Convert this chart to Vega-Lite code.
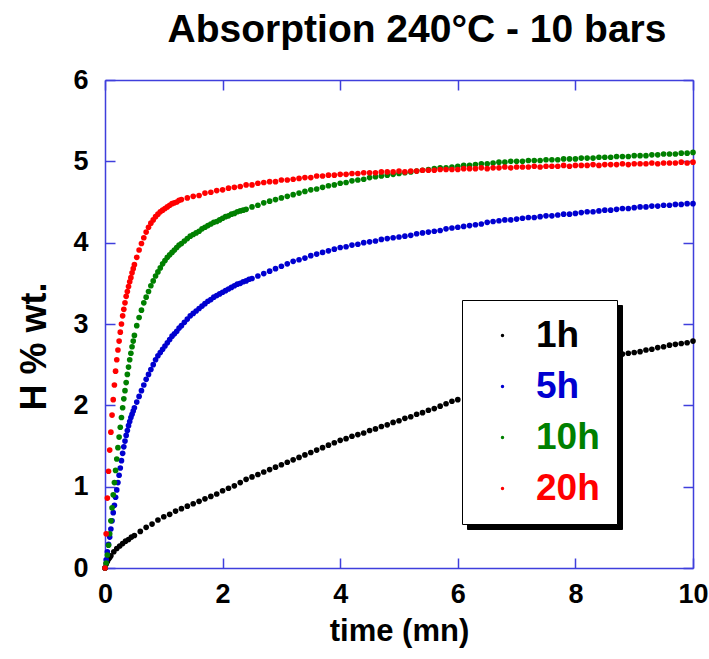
{
  "$schema": "https://vega.github.io/schema/vega-lite/v6.json",
  "width": 588,
  "height": 488,
  "autosize": "none",
  "padding": {"left": 105, "top": 80, "right": 16, "bottom": 91},
  "background": "white",
  "title": {
    "text": "Absorption 240°C - 10 bars",
    "font": "Liberation Sans",
    "fontSize": 39,
    "fontWeight": "bold",
    "color": "black",
    "anchor": "middle",
    "frame": "group",
    "dx": 18,
    "offset": 16
  },
  "config": {
    "font": "Liberation Sans",
    "view": {"stroke": null},
    "axis": {
      "grid": false,
      "domainColor": "#3f3fdc",
      "tickColor": "#3f3fdc",
      "domainWidth": 1.5,
      "tickWidth": 1.5,
      "tickSize": -10,
      "labelFont": "Liberation Sans",
      "labelFontWeight": "bold",
      "labelFontSize": 27,
      "labelColor": "black",
      "titleFont": "Liberation Sans",
      "titleFontWeight": "bold",
      "titleColor": "black"
    }
  },
  "data": {
    "values": [
      {"s":"1h","t":0,"h":0},{"s":"1h","t":0.02,"h":0.05},{"s":"1h","t":0.04,"h":0.08},{"s":"1h","t":0.06,"h":0.11},{"s":"1h","t":0.08,"h":0.13},{"s":"1h","t":0.1,"h":0.15},{"s":"1h","t":0.15,"h":0.2},{"s":"1h","t":0.2,"h":0.24},{"s":"1h","t":0.25,"h":0.27},{"s":"1h","t":0.3,"h":0.3},{"s":"1h","t":0.35,"h":0.33},{"s":"1h","t":0.4,"h":0.35},{"s":"1h","t":0.45,"h":0.38},{"s":"1h","t":0.5,"h":0.4},{"s":"1h","t":0.6,"h":0.45},{"s":"1h","t":0.7,"h":0.5},{"s":"1h","t":0.8,"h":0.54},{"s":"1h","t":0.9,"h":0.59},{"s":"1h","t":1.0,"h":0.63},{"s":"1h","t":1.1,"h":0.66},{"s":"1h","t":1.2,"h":0.7},{"s":"1h","t":1.3,"h":0.73},{"s":"1h","t":1.4,"h":0.76},{"s":"1h","t":1.5,"h":0.79},{"s":"1h","t":1.6,"h":0.82},{"s":"1h","t":1.7,"h":0.85},{"s":"1h","t":1.8,"h":0.88},{"s":"1h","t":1.9,"h":0.91},{"s":"1h","t":2.0,"h":0.95},{"s":"1h","t":2.1,"h":0.98},{"s":"1h","t":2.2,"h":1.01},{"s":"1h","t":2.3,"h":1.05},{"s":"1h","t":2.4,"h":1.09},{"s":"1h","t":2.5,"h":1.12},{"s":"1h","t":2.6,"h":1.15},{"s":"1h","t":2.7,"h":1.18},{"s":"1h","t":2.8,"h":1.21},{"s":"1h","t":2.9,"h":1.24},{"s":"1h","t":3.0,"h":1.27},{"s":"1h","t":3.1,"h":1.3},{"s":"1h","t":3.2,"h":1.33},{"s":"1h","t":3.3,"h":1.36},{"s":"1h","t":3.4,"h":1.39},{"s":"1h","t":3.5,"h":1.42},{"s":"1h","t":3.6,"h":1.45},{"s":"1h","t":3.7,"h":1.48},{"s":"1h","t":3.8,"h":1.51},{"s":"1h","t":3.9,"h":1.54},{"s":"1h","t":4.0,"h":1.57},{"s":"1h","t":4.1,"h":1.59},{"s":"1h","t":4.2,"h":1.62},{"s":"1h","t":4.3,"h":1.64},{"s":"1h","t":4.4,"h":1.66},{"s":"1h","t":4.5,"h":1.69},{"s":"1h","t":4.6,"h":1.71},{"s":"1h","t":4.7,"h":1.74},{"s":"1h","t":4.8,"h":1.76},{"s":"1h","t":4.9,"h":1.79},{"s":"1h","t":5.0,"h":1.81},{"s":"1h","t":5.1,"h":1.84},{"s":"1h","t":5.2,"h":1.86},{"s":"1h","t":5.3,"h":1.89},{"s":"1h","t":5.4,"h":1.91},{"s":"1h","t":5.5,"h":1.94},{"s":"1h","t":5.6,"h":1.96},{"s":"1h","t":5.7,"h":1.99},{"s":"1h","t":5.8,"h":2.02},{"s":"1h","t":5.9,"h":2.05},{"s":"1h","t":6.0,"h":2.07},{"s":"1h","t":6.2,"h":2.12},{"s":"1h","t":6.4,"h":2.16},{"s":"1h","t":6.6,"h":2.2},{"s":"1h","t":6.8,"h":2.24},{"s":"1h","t":7.0,"h":2.28},{"s":"1h","t":7.2,"h":2.32},{"s":"1h","t":7.4,"h":2.36},{"s":"1h","t":7.6,"h":2.4},{"s":"1h","t":7.8,"h":2.44},{"s":"1h","t":8.0,"h":2.47},{"s":"1h","t":8.2,"h":2.51},{"s":"1h","t":8.4,"h":2.55},{"s":"1h","t":8.6,"h":2.59},{"s":"1h","t":8.7,"h":2.61},{"s":"1h","t":8.8,"h":2.63},{"s":"1h","t":8.9,"h":2.64},{"s":"1h","t":9.0,"h":2.65},{"s":"1h","t":9.1,"h":2.66},{"s":"1h","t":9.2,"h":2.68},{"s":"1h","t":9.3,"h":2.69},{"s":"1h","t":9.4,"h":2.71},{"s":"1h","t":9.5,"h":2.72},{"s":"1h","t":9.6,"h":2.74},{"s":"1h","t":9.7,"h":2.75},{"s":"1h","t":9.8,"h":2.76},{"s":"1h","t":9.9,"h":2.77},{"s":"1h","t":10.0,"h":2.79},

      {"s":"5h","t":0,"h":0},{"s":"5h","t":0.02,"h":0.1},{"s":"5h","t":0.04,"h":0.2},{"s":"5h","t":0.06,"h":0.29},{"s":"5h","t":0.08,"h":0.38},{"s":"5h","t":0.1,"h":0.48},{"s":"5h","t":0.12,"h":0.58},{"s":"5h","t":0.14,"h":0.68},{"s":"5h","t":0.16,"h":0.77},{"s":"5h","t":0.18,"h":0.87},{"s":"5h","t":0.2,"h":0.96},{"s":"5h","t":0.22,"h":1.05},{"s":"5h","t":0.24,"h":1.14},{"s":"5h","t":0.26,"h":1.23},{"s":"5h","t":0.28,"h":1.32},{"s":"5h","t":0.3,"h":1.41},{"s":"5h","t":0.32,"h":1.49},{"s":"5h","t":0.34,"h":1.56},{"s":"5h","t":0.36,"h":1.63},{"s":"5h","t":0.38,"h":1.69},{"s":"5h","t":0.4,"h":1.75},{"s":"5h","t":0.42,"h":1.8},{"s":"5h","t":0.44,"h":1.85},{"s":"5h","t":0.46,"h":1.89},{"s":"5h","t":0.48,"h":1.93},{"s":"5h","t":0.5,"h":1.97},{"s":"5h","t":0.54,"h":2.04},{"s":"5h","t":0.58,"h":2.11},{"s":"5h","t":0.62,"h":2.18},{"s":"5h","t":0.66,"h":2.25},{"s":"5h","t":0.7,"h":2.32},{"s":"5h","t":0.74,"h":2.38},{"s":"5h","t":0.78,"h":2.44},{"s":"5h","t":0.82,"h":2.5},{"s":"5h","t":0.86,"h":2.56},{"s":"5h","t":0.9,"h":2.61},{"s":"5h","t":0.94,"h":2.65},{"s":"5h","t":0.98,"h":2.69},{"s":"5h","t":1.02,"h":2.73},{"s":"5h","t":1.06,"h":2.77},{"s":"5h","t":1.1,"h":2.81},{"s":"5h","t":1.14,"h":2.85},{"s":"5h","t":1.18,"h":2.88},{"s":"5h","t":1.22,"h":2.91},{"s":"5h","t":1.26,"h":2.95},{"s":"5h","t":1.3,"h":2.98},{"s":"5h","t":1.35,"h":3.02},{"s":"5h","t":1.4,"h":3.06},{"s":"5h","t":1.45,"h":3.1},{"s":"5h","t":1.5,"h":3.13},{"s":"5h","t":1.55,"h":3.16},{"s":"5h","t":1.6,"h":3.19},{"s":"5h","t":1.65,"h":3.22},{"s":"5h","t":1.7,"h":3.25},{"s":"5h","t":1.75,"h":3.28},{"s":"5h","t":1.8,"h":3.3},{"s":"5h","t":1.85,"h":3.33},{"s":"5h","t":1.9,"h":3.35},{"s":"5h","t":1.95,"h":3.37},{"s":"5h","t":2.0,"h":3.39},{"s":"5h","t":2.05,"h":3.41},{"s":"5h","t":2.1,"h":3.43},{"s":"5h","t":2.15,"h":3.45},{"s":"5h","t":2.2,"h":3.47},{"s":"5h","t":2.25,"h":3.49},{"s":"5h","t":2.3,"h":3.5},{"s":"5h","t":2.35,"h":3.52},{"s":"5h","t":2.4,"h":3.53},{"s":"5h","t":2.45,"h":3.55},{"s":"5h","t":2.5,"h":3.56},{"s":"5h","t":2.6,"h":3.59},{"s":"5h","t":2.7,"h":3.62},{"s":"5h","t":2.8,"h":3.65},{"s":"5h","t":2.9,"h":3.68},{"s":"5h","t":3.0,"h":3.71},{"s":"5h","t":3.1,"h":3.74},{"s":"5h","t":3.2,"h":3.77},{"s":"5h","t":3.3,"h":3.79},{"s":"5h","t":3.4,"h":3.81},{"s":"5h","t":3.5,"h":3.84},{"s":"5h","t":3.6,"h":3.86},{"s":"5h","t":3.7,"h":3.88},{"s":"5h","t":3.8,"h":3.9},{"s":"5h","t":3.9,"h":3.92},{"s":"5h","t":4.0,"h":3.94},{"s":"5h","t":4.1,"h":3.95},{"s":"5h","t":4.2,"h":3.97},{"s":"5h","t":4.3,"h":3.98},{"s":"5h","t":4.4,"h":4.0},{"s":"5h","t":4.5,"h":4.01},{"s":"5h","t":4.6,"h":4.02},{"s":"5h","t":4.7,"h":4.04},{"s":"5h","t":4.8,"h":4.05},{"s":"5h","t":4.9,"h":4.06},{"s":"5h","t":5.0,"h":4.07},{"s":"5h","t":5.1,"h":4.08},{"s":"5h","t":5.2,"h":4.09},{"s":"5h","t":5.3,"h":4.11},{"s":"5h","t":5.4,"h":4.12},{"s":"5h","t":5.5,"h":4.13},{"s":"5h","t":5.6,"h":4.14},{"s":"5h","t":5.7,"h":4.15},{"s":"5h","t":5.8,"h":4.17},{"s":"5h","t":5.9,"h":4.18},{"s":"5h","t":6.0,"h":4.19},{"s":"5h","t":6.1,"h":4.2},{"s":"5h","t":6.2,"h":4.21},{"s":"5h","t":6.3,"h":4.22},{"s":"5h","t":6.4,"h":4.23},{"s":"5h","t":6.5,"h":4.25},{"s":"5h","t":6.6,"h":4.26},{"s":"5h","t":6.7,"h":4.27},{"s":"5h","t":6.8,"h":4.28},{"s":"5h","t":6.9,"h":4.28},{"s":"5h","t":7.0,"h":4.29},{"s":"5h","t":7.1,"h":4.3},{"s":"5h","t":7.2,"h":4.31},{"s":"5h","t":7.3,"h":4.31},{"s":"5h","t":7.4,"h":4.32},{"s":"5h","t":7.5,"h":4.33},{"s":"5h","t":7.6,"h":4.33},{"s":"5h","t":7.7,"h":4.34},{"s":"5h","t":7.8,"h":4.35},{"s":"5h","t":7.9,"h":4.35},{"s":"5h","t":8.0,"h":4.36},{"s":"5h","t":8.1,"h":4.37},{"s":"5h","t":8.2,"h":4.38},{"s":"5h","t":8.3,"h":4.38},{"s":"5h","t":8.4,"h":4.39},{"s":"5h","t":8.5,"h":4.4},{"s":"5h","t":8.6,"h":4.4},{"s":"5h","t":8.7,"h":4.41},{"s":"5h","t":8.8,"h":4.42},{"s":"5h","t":8.9,"h":4.42},{"s":"5h","t":9.0,"h":4.43},{"s":"5h","t":9.1,"h":4.44},{"s":"5h","t":9.2,"h":4.44},{"s":"5h","t":9.3,"h":4.45},{"s":"5h","t":9.4,"h":4.45},{"s":"5h","t":9.5,"h":4.46},{"s":"5h","t":9.6,"h":4.46},{"s":"5h","t":9.7,"h":4.47},{"s":"5h","t":9.8,"h":4.47},{"s":"5h","t":9.9,"h":4.48},{"s":"5h","t":10.0,"h":4.48},

      {"s":"10h","t":0,"h":0},{"s":"10h","t":0.02,"h":0.06},{"s":"10h","t":0.04,"h":0.16},{"s":"10h","t":0.06,"h":0.28},{"s":"10h","t":0.08,"h":0.42},{"s":"10h","t":0.1,"h":0.58},{"s":"10h","t":0.12,"h":0.74},{"s":"10h","t":0.14,"h":0.9},{"s":"10h","t":0.16,"h":1.05},{"s":"10h","t":0.18,"h":1.2},{"s":"10h","t":0.2,"h":1.34},{"s":"10h","t":0.22,"h":1.48},{"s":"10h","t":0.24,"h":1.61},{"s":"10h","t":0.26,"h":1.73},{"s":"10h","t":0.28,"h":1.85},{"s":"10h","t":0.3,"h":1.97},{"s":"10h","t":0.32,"h":2.08},{"s":"10h","t":0.34,"h":2.18},{"s":"10h","t":0.36,"h":2.28},{"s":"10h","t":0.38,"h":2.38},{"s":"10h","t":0.4,"h":2.47},{"s":"10h","t":0.42,"h":2.56},{"s":"10h","t":0.44,"h":2.64},{"s":"10h","t":0.46,"h":2.72},{"s":"10h","t":0.48,"h":2.79},{"s":"10h","t":0.5,"h":2.86},{"s":"10h","t":0.54,"h":2.98},{"s":"10h","t":0.58,"h":3.08},{"s":"10h","t":0.62,"h":3.17},{"s":"10h","t":0.66,"h":3.26},{"s":"10h","t":0.7,"h":3.33},{"s":"10h","t":0.74,"h":3.4},{"s":"10h","t":0.78,"h":3.47},{"s":"10h","t":0.82,"h":3.53},{"s":"10h","t":0.86,"h":3.59},{"s":"10h","t":0.9,"h":3.64},{"s":"10h","t":0.94,"h":3.69},{"s":"10h","t":0.98,"h":3.74},{"s":"10h","t":1.02,"h":3.78},{"s":"10h","t":1.06,"h":3.82},{"s":"10h","t":1.1,"h":3.85},{"s":"10h","t":1.14,"h":3.88},{"s":"10h","t":1.18,"h":3.91},{"s":"10h","t":1.22,"h":3.94},{"s":"10h","t":1.26,"h":3.97},{"s":"10h","t":1.3,"h":3.99},{"s":"10h","t":1.35,"h":4.02},{"s":"10h","t":1.4,"h":4.05},{"s":"10h","t":1.45,"h":4.08},{"s":"10h","t":1.5,"h":4.1},{"s":"10h","t":1.55,"h":4.12},{"s":"10h","t":1.6,"h":4.14},{"s":"10h","t":1.65,"h":4.17},{"s":"10h","t":1.7,"h":4.19},{"s":"10h","t":1.75,"h":4.21},{"s":"10h","t":1.8,"h":4.23},{"s":"10h","t":1.85,"h":4.25},{"s":"10h","t":1.9,"h":4.26},{"s":"10h","t":1.95,"h":4.28},{"s":"10h","t":2.0,"h":4.3},{"s":"10h","t":2.05,"h":4.32},{"s":"10h","t":2.1,"h":4.33},{"s":"10h","t":2.15,"h":4.35},{"s":"10h","t":2.2,"h":4.36},{"s":"10h","t":2.25,"h":4.38},{"s":"10h","t":2.3,"h":4.39},{"s":"10h","t":2.35,"h":4.4},{"s":"10h","t":2.4,"h":4.41},{"s":"10h","t":2.5,"h":4.44},{"s":"10h","t":2.6,"h":4.46},{"s":"10h","t":2.7,"h":4.49},{"s":"10h","t":2.8,"h":4.51},{"s":"10h","t":2.9,"h":4.53},{"s":"10h","t":3.0,"h":4.55},{"s":"10h","t":3.1,"h":4.57},{"s":"10h","t":3.2,"h":4.59},{"s":"10h","t":3.3,"h":4.61},{"s":"10h","t":3.4,"h":4.63},{"s":"10h","t":3.5,"h":4.65},{"s":"10h","t":3.6,"h":4.66},{"s":"10h","t":3.7,"h":4.68},{"s":"10h","t":3.8,"h":4.7},{"s":"10h","t":3.9,"h":4.71},{"s":"10h","t":4.0,"h":4.73},{"s":"10h","t":4.1,"h":4.74},{"s":"10h","t":4.2,"h":4.76},{"s":"10h","t":4.3,"h":4.77},{"s":"10h","t":4.4,"h":4.78},{"s":"10h","t":4.5,"h":4.8},{"s":"10h","t":4.6,"h":4.81},{"s":"10h","t":4.7,"h":4.82},{"s":"10h","t":4.8,"h":4.83},{"s":"10h","t":4.9,"h":4.84},{"s":"10h","t":5.0,"h":4.85},{"s":"10h","t":5.1,"h":4.86},{"s":"10h","t":5.2,"h":4.87},{"s":"10h","t":5.3,"h":4.88},{"s":"10h","t":5.4,"h":4.89},{"s":"10h","t":5.5,"h":4.9},{"s":"10h","t":5.6,"h":4.91},{"s":"10h","t":5.7,"h":4.92},{"s":"10h","t":5.8,"h":4.92},{"s":"10h","t":5.9,"h":4.93},{"s":"10h","t":6.0,"h":4.94},{"s":"10h","t":6.1,"h":4.95},{"s":"10h","t":6.2,"h":4.95},{"s":"10h","t":6.3,"h":4.96},{"s":"10h","t":6.4,"h":4.97},{"s":"10h","t":6.5,"h":4.97},{"s":"10h","t":6.6,"h":4.98},{"s":"10h","t":6.7,"h":4.99},{"s":"10h","t":6.8,"h":4.99},{"s":"10h","t":6.9,"h":5.0},{"s":"10h","t":7.0,"h":5.0},{"s":"10h","t":7.1,"h":5.0},{"s":"10h","t":7.2,"h":5.01},{"s":"10h","t":7.3,"h":5.01},{"s":"10h","t":7.4,"h":5.01},{"s":"10h","t":7.5,"h":5.02},{"s":"10h","t":7.6,"h":5.02},{"s":"10h","t":7.7,"h":5.02},{"s":"10h","t":7.8,"h":5.03},{"s":"10h","t":7.9,"h":5.03},{"s":"10h","t":8.0,"h":5.03},{"s":"10h","t":8.1,"h":5.04},{"s":"10h","t":8.2,"h":5.04},{"s":"10h","t":8.3,"h":5.04},{"s":"10h","t":8.4,"h":5.05},{"s":"10h","t":8.5,"h":5.05},{"s":"10h","t":8.6,"h":5.05},{"s":"10h","t":8.7,"h":5.06},{"s":"10h","t":8.8,"h":5.06},{"s":"10h","t":8.9,"h":5.06},{"s":"10h","t":9.0,"h":5.07},{"s":"10h","t":9.1,"h":5.07},{"s":"10h","t":9.2,"h":5.07},{"s":"10h","t":9.3,"h":5.08},{"s":"10h","t":9.4,"h":5.08},{"s":"10h","t":9.5,"h":5.09},{"s":"10h","t":9.6,"h":5.09},{"s":"10h","t":9.7,"h":5.09},{"s":"10h","t":9.8,"h":5.1},{"s":"10h","t":9.9,"h":5.1},{"s":"10h","t":10.0,"h":5.11},

      {"s":"20h","t":0,"h":0},{"s":"20h","t":0.02,"h":0.42},{"s":"20h","t":0.04,"h":0.86},{"s":"20h","t":0.06,"h":1.19},{"s":"20h","t":0.08,"h":1.45},{"s":"20h","t":0.1,"h":1.67},{"s":"20h","t":0.12,"h":1.88},{"s":"20h","t":0.14,"h":2.07},{"s":"20h","t":0.16,"h":2.25},{"s":"20h","t":0.18,"h":2.42},{"s":"20h","t":0.2,"h":2.56},{"s":"20h","t":0.22,"h":2.68},{"s":"20h","t":0.24,"h":2.79},{"s":"20h","t":0.26,"h":2.9},{"s":"20h","t":0.28,"h":3.0},{"s":"20h","t":0.3,"h":3.1},{"s":"20h","t":0.32,"h":3.18},{"s":"20h","t":0.34,"h":3.26},{"s":"20h","t":0.36,"h":3.34},{"s":"20h","t":0.38,"h":3.4},{"s":"20h","t":0.4,"h":3.46},{"s":"20h","t":0.42,"h":3.52},{"s":"20h","t":0.44,"h":3.57},{"s":"20h","t":0.46,"h":3.63},{"s":"20h","t":0.48,"h":3.68},{"s":"20h","t":0.5,"h":3.73},{"s":"20h","t":0.54,"h":3.82},{"s":"20h","t":0.58,"h":3.91},{"s":"20h","t":0.62,"h":3.99},{"s":"20h","t":0.66,"h":4.06},{"s":"20h","t":0.7,"h":4.13},{"s":"20h","t":0.74,"h":4.19},{"s":"20h","t":0.78,"h":4.24},{"s":"20h","t":0.82,"h":4.28},{"s":"20h","t":0.86,"h":4.32},{"s":"20h","t":0.9,"h":4.35},{"s":"20h","t":0.94,"h":4.38},{"s":"20h","t":0.98,"h":4.4},{"s":"20h","t":1.02,"h":4.42},{"s":"20h","t":1.06,"h":4.44},{"s":"20h","t":1.1,"h":4.46},{"s":"20h","t":1.14,"h":4.48},{"s":"20h","t":1.18,"h":4.49},{"s":"20h","t":1.22,"h":4.5},{"s":"20h","t":1.26,"h":4.52},{"s":"20h","t":1.3,"h":4.53},{"s":"20h","t":1.4,"h":4.55},{"s":"20h","t":1.5,"h":4.57},{"s":"20h","t":1.6,"h":4.58},{"s":"20h","t":1.7,"h":4.61},{"s":"20h","t":1.8,"h":4.62},{"s":"20h","t":1.9,"h":4.64},{"s":"20h","t":2.0,"h":4.65},{"s":"20h","t":2.1,"h":4.67},{"s":"20h","t":2.2,"h":4.68},{"s":"20h","t":2.3,"h":4.69},{"s":"20h","t":2.4,"h":4.71},{"s":"20h","t":2.5,"h":4.71},{"s":"20h","t":2.6,"h":4.73},{"s":"20h","t":2.7,"h":4.74},{"s":"20h","t":2.8,"h":4.75},{"s":"20h","t":2.9,"h":4.75},{"s":"20h","t":3.0,"h":4.77},{"s":"20h","t":3.1,"h":4.77},{"s":"20h","t":3.2,"h":4.78},{"s":"20h","t":3.3,"h":4.79},{"s":"20h","t":3.4,"h":4.8},{"s":"20h","t":3.5,"h":4.8},{"s":"20h","t":3.6,"h":4.82},{"s":"20h","t":3.7,"h":4.82},{"s":"20h","t":3.8,"h":4.83},{"s":"20h","t":3.9,"h":4.83},{"s":"20h","t":4.0,"h":4.84},{"s":"20h","t":4.1,"h":4.84},{"s":"20h","t":4.2,"h":4.85},{"s":"20h","t":4.3,"h":4.85},{"s":"20h","t":4.4,"h":4.86},{"s":"20h","t":4.5,"h":4.86},{"s":"20h","t":4.6,"h":4.86},{"s":"20h","t":4.7,"h":4.87},{"s":"20h","t":4.8,"h":4.87},{"s":"20h","t":4.9,"h":4.87},{"s":"20h","t":5.0,"h":4.88},{"s":"20h","t":5.1,"h":4.87},{"s":"20h","t":5.2,"h":4.88},{"s":"20h","t":5.3,"h":4.88},{"s":"20h","t":5.4,"h":4.89},{"s":"20h","t":5.5,"h":4.89},{"s":"20h","t":5.6,"h":4.89},{"s":"20h","t":5.7,"h":4.9},{"s":"20h","t":5.8,"h":4.9},{"s":"20h","t":5.9,"h":4.9},{"s":"20h","t":6.0,"h":4.9},{"s":"20h","t":6.1,"h":4.91},{"s":"20h","t":6.2,"h":4.91},{"s":"20h","t":6.3,"h":4.91},{"s":"20h","t":6.4,"h":4.92},{"s":"20h","t":6.5,"h":4.91},{"s":"20h","t":6.6,"h":4.92},{"s":"20h","t":6.7,"h":4.92},{"s":"20h","t":6.8,"h":4.93},{"s":"20h","t":6.9,"h":4.92},{"s":"20h","t":7.0,"h":4.93},{"s":"20h","t":7.1,"h":4.93},{"s":"20h","t":7.2,"h":4.93},{"s":"20h","t":7.3,"h":4.94},{"s":"20h","t":7.4,"h":4.93},{"s":"20h","t":7.5,"h":4.94},{"s":"20h","t":7.6,"h":4.94},{"s":"20h","t":7.7,"h":4.94},{"s":"20h","t":7.8,"h":4.95},{"s":"20h","t":7.9,"h":4.94},{"s":"20h","t":8.0,"h":4.95},{"s":"20h","t":8.1,"h":4.95},{"s":"20h","t":8.2,"h":4.95},{"s":"20h","t":8.3,"h":4.96},{"s":"20h","t":8.4,"h":4.95},{"s":"20h","t":8.5,"h":4.96},{"s":"20h","t":8.6,"h":4.96},{"s":"20h","t":8.7,"h":4.96},{"s":"20h","t":8.8,"h":4.97},{"s":"20h","t":8.9,"h":4.96},{"s":"20h","t":9.0,"h":4.97},{"s":"20h","t":9.1,"h":4.97},{"s":"20h","t":9.2,"h":4.97},{"s":"20h","t":9.3,"h":4.98},{"s":"20h","t":9.4,"h":4.97},{"s":"20h","t":9.5,"h":4.98},{"s":"20h","t":9.6,"h":4.98},{"s":"20h","t":9.7,"h":4.98},{"s":"20h","t":9.8,"h":4.99},{"s":"20h","t":9.9,"h":4.98},{"s":"20h","t":10.0,"h":4.99}
    ]
  },
  "layer": [
    {
      "mark": {"type": "point", "filled": true, "size": 32, "opacity": 1, "shape": "circle"},
      "encoding": {
        "x": {
          "field": "t", "type": "quantitative",
          "scale": {"domain": [0, 10], "nice": false, "zero": false},
          "axis": {
            "orient": "bottom",
            "values": [0, 2, 4, 6, 8, 10],
            "labelPadding": 23,
            "labelFlush": false,
            "labelOverlap": false,
            "title": "time (mn)",
            "titleFontSize": 31,
            "titleBaseline": "alphabetic",
            "titleY": 72
          }
        },
        "y": {
          "field": "h", "type": "quantitative",
          "scale": {"domain": [0, 6], "nice": false, "zero": false},
          "axis": {
            "orient": "left",
            "values": [0, 1, 2, 3, 4, 5, 6],
            "labelPadding": 27,
            "labelFlush": false,
            "labelOverlap": false,
            "title": "H % wt.",
            "titleFontSize": 36,
            "titleAngle": -90,
            "titleAlign": "center",
            "titleBaseline": "alphabetic",
            "titleX": -60,
            "titleY": 266
          }
        },
        "color": {
          "field": "s", "type": "nominal",
          "sort": ["1h", "5h", "10h", "20h"],
          "scale": {"range": ["#000000", "#0000d0", "#008000", "#ff0000"]},
          "legend": {
            "orient": "none",
            "legendX": 357,
            "legendY": 220,
            "title": null,
            "fillColor": "white",
            "strokeColor": "black",
            "padding": 17,
            "rowPadding": 13,
            "symbolType": "circle",
            "symbolSize": 12,
            "symbolOffset": 5,
            "labelOffset": 15,
            "labelFont": "Liberation Sans",
            "labelFontWeight": "bold",
            "labelFontSize": 37,
            "labelColor": {"expr": "scale('color', datum.value)"},
            "zindex": 2,
            "encode": {
              "legend": {"strokeWidth": {"value": 2}}
            }
          }
        },
        "shape": {
          "field": "s", "type": "nominal",
          "scale": {"domain": ["1h", "5h", "10h", "20h"], "range": ["circle", "circle", "circle", "circle"]},
          "legend": {
            "orient": "none",
            "legendX": 362,
            "legendY": 225,
            "title": null,
            "fillColor": "black",
            "strokeColor": "black",
            "padding": 17,
            "rowPadding": 13,
            "symbolType": "circle",
            "symbolSize": 12,
            "symbolOffset": 5,
            "symbolFillColor": "black",
            "symbolStrokeColor": "black",
            "labelOffset": 15,
            "labelFont": "Liberation Sans",
            "labelFontWeight": "bold",
            "labelFontSize": 37,
            "labelColor": "black",
            "zindex": 1
          }
        }
      }
    },
    {
      "mark": {"type": "point", "opacity": 0},
      "encoding": {
        "x": {
          "field": "t", "type": "quantitative",
          "scale": {"domain": [0, 10], "nice": false, "zero": false},
          "axis": {"orient": "top", "values": [0, 2, 4, 6, 8, 10], "labels": false, "title": null}
        },
        "y": {
          "field": "h", "type": "quantitative",
          "scale": {"domain": [0, 6], "nice": false, "zero": false},
          "axis": {"orient": "right", "values": [0, 1, 2, 3, 4, 5, 6], "labels": false, "title": null}
        }
      }
    }
  ],
  "resolve": {"axis": {"x": "independent", "y": "independent"}}
}
